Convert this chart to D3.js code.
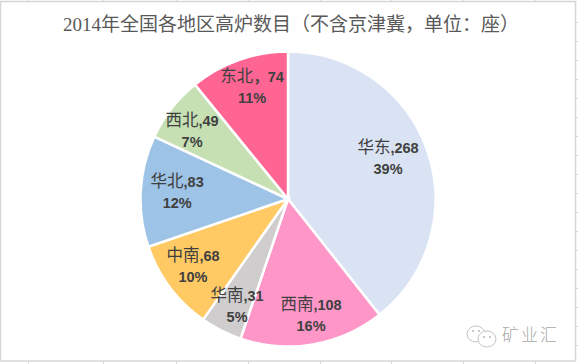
<!DOCTYPE html>
<html>
<head>
<meta charset="utf-8">
<script src="https://cdnjs.cloudflare.com/ajax/libs/d3/7.8.5/d3.min.js"></script>
<style>
  html, body { margin: 0; padding: 0; background: #fff; overflow: hidden; }
  svg { display: block; }
</style>
</head>
<body>
<script>
const WIDTH = 578;
const HEIGHT = 364;

const TITLE = "2014年全国各地区高炉数目（不含京津冀，单位：座）";
const regions = ["华东", "西南", "华南", "中南", "华北", "西北", "东北"];
const counts = [268, 108, 31, 68, 83, 49, 74];
const percents = ["39%", "16%", "5%", "10%", "12%", "7%", "11%"];
const separators = [",", ",", ",", ",", ",", ",", "，"];
const colors = ["#d9e3f3", "#ff96c8", "#cfcdcd", "#ffca63", "#9dc3e6", "#c6e0b4", "#ff6593"];
const columnTicks = [28, 103, 176, 248, 320, 391, 463, 535];
const rowTicks = [22, 41, 60, 79, 98, 117, 136, 155, 174, 193, 212, 231, 250, 269, 288, 307, 326, 345];

const CX = 288, CY = 199, R = 147.5;
const LABEL_COLOR = "#404040";
const LATIN = "'Liberation Sans', Arial, sans-serif";
const CJK = "'Noto Sans CJK SC', sans-serif";

// nudges from the slice centroid, labels were moved by hand in the original
const labelDx = [3.7, 5.7, -4.7, -13.4, -9, -15.5, -1.8];
const labelDy = [-9.5, 13.5, 14, 3.8, -3.7, -7.4, -18];

const svg = d3.select("body").append("svg").attr("width", WIDTH).attr("height", HEIGHT);

// spreadsheet frame behind the chart
const frame = svg.append("g").attr("stroke", "#d6d6d6").attr("fill", "none");
frame.append("rect").attr("x", 0.5).attr("y", 1.5).attr("width", 575).attr("height", 359.5).attr("stroke-width", 1.5);
frame.selectAll("line.top").data(columnTicks).enter().append("line")
  .attr("x1", d => d + 0.5).attr("x2", d => d + 0.5).attr("y1", 0).attr("y2", 2);
frame.selectAll("line.bottom").data(columnTicks).enter().append("line")
  .attr("x1", d => d + 0.5).attr("x2", d => d + 0.5).attr("y1", 361).attr("y2", 364);
frame.selectAll("line.side").data(rowTicks).enter().append("line")
  .attr("x1", 576).attr("x2", 578).attr("y1", d => d + 0.5).attr("y2", d => d + 0.5);

svg.append("text")
  .attr("x", 291)
  .attr("y", 31)
  .attr("text-anchor", "middle")
  .attr("font-family", "'Liberation Serif', 'Noto Sans CJK SC', serif")
  .attr("font-size", 19)
  .attr("fill", "#595959")
  .text(TITLE);

const pie = d3.pie().sort(null).value(d => d);
const arcs = pie(counts);
const arc = d3.arc().innerRadius(0).outerRadius(R);
const labelArc = d3.arc().innerRadius(102).outerRadius(102);

const chart = svg.append("g").attr("transform", "translate(" + CX + "," + CY + ")");

chart.selectAll("path")
  .data(arcs)
  .enter().append("path")
  .attr("d", arc)
  .attr("fill", (d, i) => colors[i])
  .attr("stroke", "#fff")
  .attr("stroke-width", 2.5);

const labels = chart.selectAll("g.label")
  .data(arcs)
  .enter().append("g")
  .attr("class", "label")
  .attr("transform", (d, i) => {
    const [x, y] = labelArc.centroid(d);
    return "translate(" + (x + labelDx[i]) + "," + (y + labelDy[i]) + ")";
  })
  .attr("text-anchor", "middle")
  .attr("fill", LABEL_COLOR);

const first = labels.append("text").attr("y", -3);
first.append("tspan").attr("font-family", CJK).attr("font-size", 16.5).text((d, i) => regions[i]);
first.append("tspan").attr("font-family", (d, i) => separators[i] === "，" ? CJK : LATIN).attr("font-size", 14.5).attr("font-weight", "bold").text((d, i) => separators[i]);
first.append("tspan").attr("font-family", LATIN).attr("font-size", 14.5).attr("font-weight", "bold").text((d, i) => counts[i]);

labels.append("text")
  .attr("y", 18)
  .attr("font-family", LATIN)
  .attr("font-size", 14.5)
  .attr("font-weight", "bold")
  .text((d, i) => percents[i]);

// watermark, bottom right
const mark = svg.append("g").attr("stroke", "#c4c4c4").attr("fill", "#fff");
mark.append("ellipse").attr("cx", 476).attr("cy", 334).attr("rx", 9).attr("ry", 8);
mark.append("ellipse").attr("cx", 487).attr("cy", 339).attr("rx", 9).attr("ry", 8);
mark.selectAll("circle")
  .data([[473, 331], [479, 331], [484, 337], [490, 337]])
  .enter().append("circle")
  .attr("cx", d => d[0]).attr("cy", d => d[1]).attr("r", 0.9)
  .attr("stroke", "none").attr("fill", "#b0b0b0");

svg.append("text")
  .attr("x", 502)
  .attr("y", 341)
  .attr("font-family", CJK)
  .attr("font-size", 17)
  .attr("font-weight", 300)
  .attr("letter-spacing", 2)
  .attr("fill", "#a8a8a8")
  .text("矿业汇");
</script>
</body>
</html>
